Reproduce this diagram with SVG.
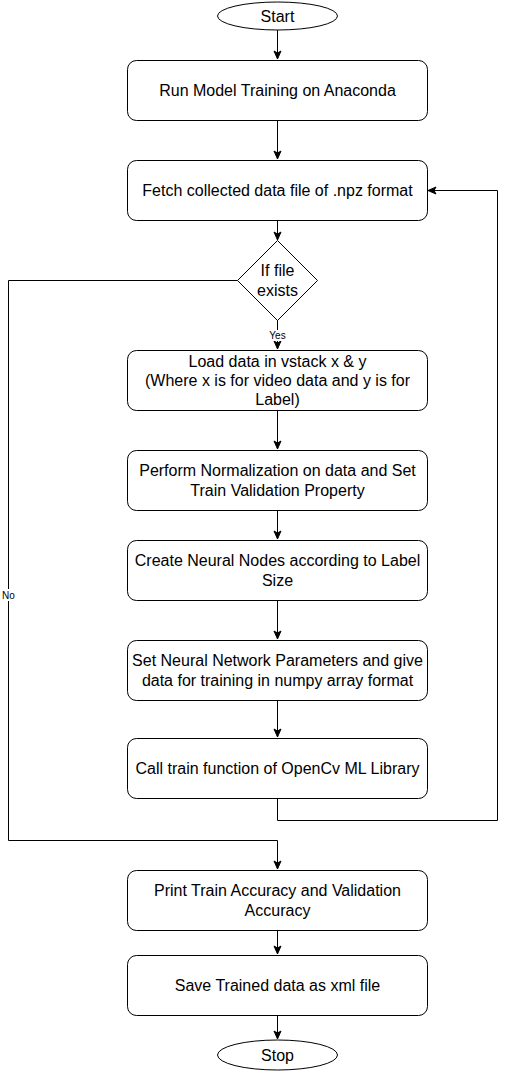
<svg xmlns="http://www.w3.org/2000/svg" width="507" height="1071" viewBox="0 0 507 1071">
<style>
.box{fill:#fff;stroke:#000;stroke-width:1}
.t{font-family:"Liberation Sans",Arial,sans-serif;font-size:16px;fill:#000;text-anchor:middle}
.s{font-family:"Liberation Sans",Arial,sans-serif;font-size:10px;fill:#000;text-anchor:middle}
.c{fill:none;stroke:#000;stroke-width:1}
</style>
<defs>
<marker id="ah" markerUnits="userSpaceOnUse" markerWidth="10" markerHeight="10" viewBox="0 0 10 10" refX="9" refY="5" orient="auto">
<path d="M1,1.5 L9,5 L1,8.5 L3,5 z" fill="#000" stroke="#000" stroke-width="1"/>
</marker>
</defs>
<rect width="507" height="1071" fill="#fff"/>
<g id="connectors">
<path class="c" d="M277.5,30 V59" marker-end="url(#ah)"/>
<path class="c" d="M277.5,120 V159" marker-end="url(#ah)"/>
<path class="c" d="M277.5,220 V240" marker-end="url(#ah)"/>
<path class="c" d="M277.5,320 V349" marker-end="url(#ah)"/>
<path class="c" d="M277.5,410 V449" marker-end="url(#ah)"/>
<path class="c" d="M277.5,510 V539" marker-end="url(#ah)"/>
<path class="c" d="M277.5,600 V639" marker-end="url(#ah)"/>
<path class="c" d="M277.5,700 V737" marker-end="url(#ah)"/>
<path class="c" d="M277.5,798 V820.5 H497.5 V190.5 H428" marker-end="url(#ah)"/>
<path class="c" d="M237.5,280.5 H8.5 V840.5 H277.5 V869" marker-end="url(#ah)"/>
<path class="c" d="M277.5,930 V954" marker-end="url(#ah)"/>
<path class="c" d="M277.5,1015 V1039" marker-end="url(#ah)"/>
<rect x="267" y="330" width="21" height="11" fill="#fff"/>
<text class="s" x="277.5" y="339">Yes</text>
<rect x="1" y="589" width="15" height="12" fill="#fff"/>
<text class="s" x="8.5" y="599">No</text>
</g>
<g id="start">
<ellipse class="box" cx="277.5" cy="16" rx="60" ry="14"/>
<text class="t" x="277.5" y="21.5">Start</text>
</g>
<g id="run">
<rect class="box" x="127.5" y="60.5" width="300" height="60" rx="9"/>
<text class="t" x="277.5" y="96">Run Model Training on Anaconda</text>
</g>
<g id="fetch">
<rect class="box" x="127.5" y="160.5" width="300" height="60" rx="9"/>
<text class="t" x="277.5" y="196">Fetch collected data file of .npz format</text>
</g>
<g id="decision">
<polygon class="box" points="277.5,240.5 317.5,280.5 277.5,320.5 237.5,280.5"/>
<text class="t" x="277.5" y="276.4">If file</text>
<text class="t" x="277.5" y="295.6">exists</text>
</g>
<g id="load">
<rect class="box" x="127.5" y="350.5" width="300" height="60" rx="9"/>
<text class="t" x="277.5" y="366.8">Load data in vstack x &amp; y</text>
<text class="t" x="277.5" y="386">(Where x is for video data and y is for</text>
<text class="t" x="277.5" y="405.2">Label)</text>
</g>
<g id="normalize">
<rect class="box" x="127.5" y="450.5" width="300" height="60" rx="9"/>
<text class="t" x="277.5" y="476.4">Perform Normalization on data and Set</text>
<text class="t" x="277.5" y="495.6">Train Validation Property</text>
</g>
<g id="nodes">
<rect class="box" x="127.5" y="540.5" width="300" height="60" rx="9"/>
<text class="t" x="277.5" y="566.4">Create Neural Nodes according to Label</text>
<text class="t" x="277.5" y="585.6">Size</text>
</g>
<g id="params">
<rect class="box" x="127.5" y="640.5" width="300" height="60" rx="9"/>
<text class="t" x="277.5" y="666.4">Set Neural Network Parameters and give</text>
<text class="t" x="277.5" y="685.6">data for training in numpy array format</text>
</g>
<g id="train">
<rect class="box" x="127.5" y="738.5" width="300" height="60" rx="9"/>
<text class="t" x="277.5" y="774">Call train function of OpenCv ML Library</text>
</g>
<g id="print">
<rect class="box" x="127.5" y="870.5" width="300" height="60" rx="9"/>
<text class="t" x="277.5" y="896.4">Print Train Accuracy and Validation</text>
<text class="t" x="277.5" y="915.6">Accuracy</text>
</g>
<g id="save">
<rect class="box" x="127.5" y="955.5" width="300" height="60" rx="9"/>
<text class="t" x="277.5" y="991">Save Trained data as xml file</text>
</g>
<g id="stop">
<ellipse class="box" cx="277.5" cy="1055" rx="60" ry="15"/>
<text class="t" x="277.5" y="1060.5">Stop</text>
</g>
</svg>
